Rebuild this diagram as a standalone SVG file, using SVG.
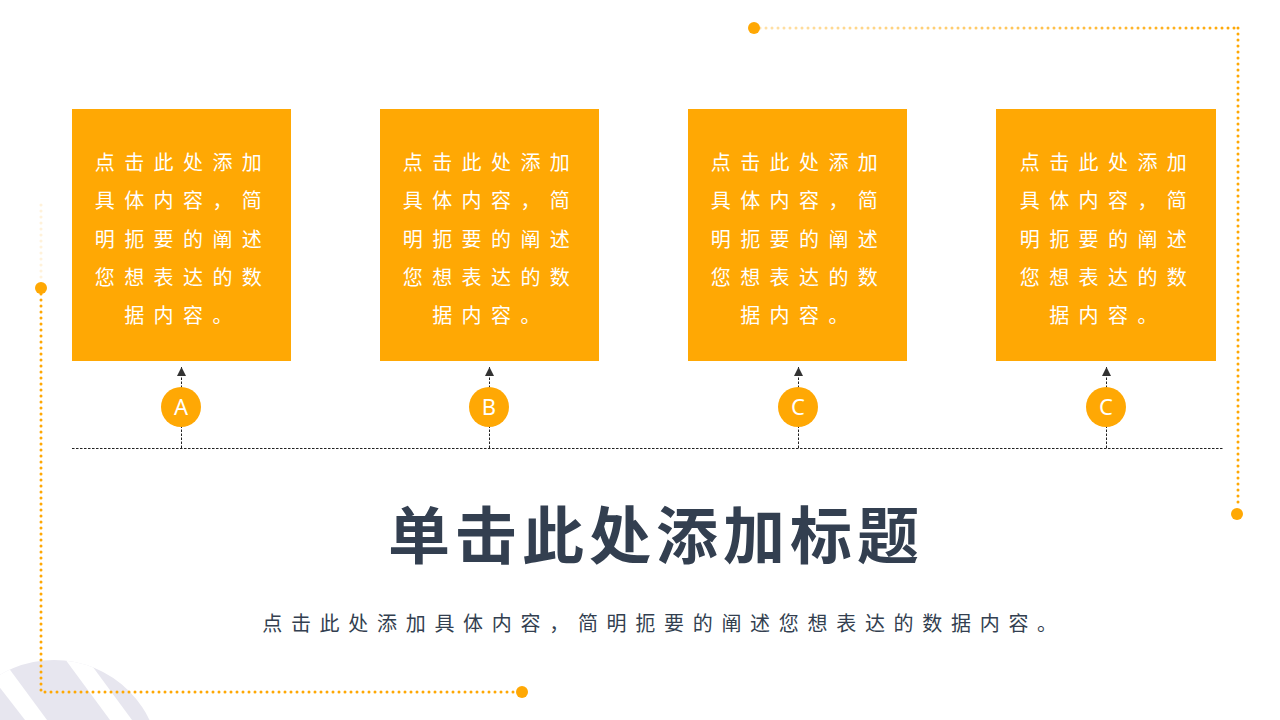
<svg xmlns="http://www.w3.org/2000/svg" width="1280" height="720" viewBox="0 0 1280 720">
<defs>
<style>
.box{fill:#ffa804}
.bt{font-family:"Noto Sans CJK SC","Noto Sans",sans-serif;font-size:20px;fill:#ffffff;letter-spacing:9.4px;text-anchor:middle}
.circ{fill:#ffa804}
.lt{font-family:"Noto Sans","Liberation Sans",sans-serif;font-size:22px;fill:#ffffff;text-anchor:middle}
.dash{stroke:#222;stroke-width:1;stroke-dasharray:2.5 1.5;fill:none}
.dots{stroke:#ffa804;stroke-width:3;stroke-linecap:round;stroke-dasharray:0 6;fill:none}
.dot{fill:#ffa804}
</style>
<marker id="ah" viewBox="0 0 10 10" refX="10" refY="5" markerWidth="9" markerHeight="9" markerUnits="userSpaceOnUse" orient="auto">
<path d="M0,0 L10,5 L0,10 Z" fill="#333"/>
</marker>
<clipPath id="cc"><circle cx="54" cy="766" r="106"/></clipPath>
<linearGradient id="gt" gradientUnits="userSpaceOnUse" x1="760" y1="28" x2="1238" y2="28">
<stop offset="0" stop-color="#ffa804" stop-opacity="0.35"/>
<stop offset="0.45" stop-color="#ffa804" stop-opacity="0.6"/>
<stop offset="1" stop-color="#ffa804" stop-opacity="1"/>
</linearGradient>
</defs>
<rect width="1280" height="720" fill="#ffffff"/>
<g id="deco-bg">
<g clip-path="url(#cc)">
<rect x="-60" y="640" width="240" height="90" fill="#e7e6ef"/>
<polygon points="-37,640 -12,640 47,720 25,720" fill="#ffffff"/>
<polygon points="51,640 73,640 132,720 110,720" fill="#ffffff"/>
</g>
</g>
<g id="deco-lines">
<line x1="41" y1="205" x2="41" y2="282" class="dots" opacity="0.15"/>
<polyline points="41,294 41,692 516,692" class="dots"/>
<circle cx="41" cy="288" r="6" class="dot"/>
<circle cx="522" cy="692" r="6" class="dot"/>
<line x1="760" y1="28" x2="1238" y2="28" stroke="url(#gt)" stroke-width="3" stroke-linecap="round" stroke-dasharray="0 6" fill="none"/>
<polyline points="1238,28 1238,508" class="dots"/>
<circle cx="754" cy="28" r="6" class="dot"/>
<circle cx="1237" cy="514" r="6" class="dot"/>
</g>
<g id="connectors">
<line x1="72" y1="448.5" x2="1224" y2="448.5" class="dash"/>
<line x1="181.5" y1="448" x2="181.5" y2="367" class="dash" marker-end="url(#ah)"/>
<line x1="489.5" y1="448" x2="489.5" y2="367" class="dash" marker-end="url(#ah)"/>
<line x1="798.5" y1="448" x2="798.5" y2="367" class="dash" marker-end="url(#ah)"/>
<line x1="1106.5" y1="448" x2="1106.5" y2="367" class="dash" marker-end="url(#ah)"/>
</g>
<g id="node-1">
<rect x="72" y="109" width="219" height="252" class="box"/>
<text class="bt"><tspan x="183" y="170">点击此处添加</tspan><tspan x="183" y="208">具体内容，简</tspan><tspan x="183" y="247">明扼要的阐述</tspan><tspan x="183" y="285">您想表达的数</tspan><tspan x="183" y="323">据内容。</tspan></text>
</g>
<g id="node-2">
<rect x="380" y="109" width="219" height="252" class="box"/>
<text class="bt"><tspan x="491" y="170">点击此处添加</tspan><tspan x="491" y="208">具体内容，简</tspan><tspan x="491" y="247">明扼要的阐述</tspan><tspan x="491" y="285">您想表达的数</tspan><tspan x="491" y="323">据内容。</tspan></text>
</g>
<g id="node-3">
<rect x="688" y="109" width="219" height="252" class="box"/>
<text class="bt"><tspan x="799" y="170">点击此处添加</tspan><tspan x="799" y="208">具体内容，简</tspan><tspan x="799" y="247">明扼要的阐述</tspan><tspan x="799" y="285">您想表达的数</tspan><tspan x="799" y="323">据内容。</tspan></text>
</g>
<g id="node-4">
<rect x="996" y="109" width="220" height="252" class="box"/>
<text class="bt"><tspan x="1108" y="170">点击此处添加</tspan><tspan x="1108" y="208">具体内容，简</tspan><tspan x="1108" y="247">明扼要的阐述</tspan><tspan x="1108" y="285">您想表达的数</tspan><tspan x="1108" y="323">据内容。</tspan></text>
</g>
<g id="badge-a"><circle cx="181" cy="407" r="20" class="circ"/><text x="181" y="415" class="lt">A</text></g>
<g id="badge-b"><circle cx="489" cy="407" r="20" class="circ"/><text x="489" y="415" class="lt">B</text></g>
<g id="badge-c1"><circle cx="798" cy="407" r="20" class="circ"/><text x="798" y="415" class="lt">C</text></g>
<g id="badge-c2"><circle cx="1106" cy="407" r="20" class="circ"/><text x="1106" y="415" class="lt">C</text></g>
<g id="title">
<text x="656" y="559" font-family="'Noto Sans CJK SC','Noto Sans',sans-serif" font-size="62" font-weight="bold" fill="#333f50" text-anchor="middle" letter-spacing="5">单击此处添加标题</text>
<text x="664" y="631" font-family="'Noto Sans CJK SC','Noto Sans',sans-serif" font-size="20" fill="#333f50" text-anchor="middle" letter-spacing="8.7">点击此处添加具体内容，简明扼要的阐述您想表达的数据内容。</text>
</g>
</svg>
